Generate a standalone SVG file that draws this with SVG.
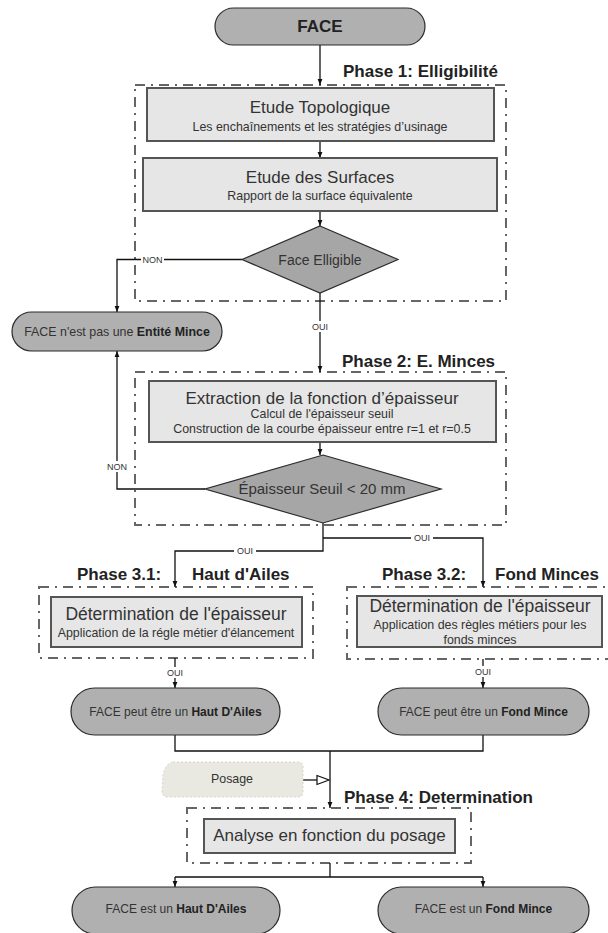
<svg xmlns="http://www.w3.org/2000/svg" width="608" height="933" viewBox="0 0 608 933">
<defs>
<marker id="arr" viewBox="0 0 10 10" refX="10" refY="5" markerWidth="6" markerHeight="6" orient="auto" markerUnits="userSpaceOnUse"><path d="M0,1 L10,5 L0,9 Z" fill="#111"/></marker>
<style>
.term{fill:#b0b0b0;stroke:#2b2b2b;stroke-width:1.2}
.proc{fill:#e6e6e6;stroke:#555;stroke-width:2}
.dec{fill:#a6a6a6;stroke:#2b2b2b;stroke-width:1.2}
.phase{fill:none;stroke:#666;stroke-width:2;stroke-dasharray:10 6 2 6}
.conn{fill:none;stroke:#111;stroke-width:1.3}
.bg{fill:#fff}
text{font-family:"Liberation Sans",Arial,sans-serif;fill:#333;text-anchor:middle}
.t17{font-size:17px}
.t12{font-size:12.4px}
.n12{font-size:12px}
.lbl{font-size:9px}
.ph{font-size:17px;font-weight:bold;fill:#222;text-anchor:start}
.b{font-weight:bold;fill:#222}
</style>
</defs>

<g id="phases">
<g id="phase1"><rect class="phase" x="135" y="85" width="371" height="216"/><text class="ph" x="343" y="77">Phase 1: Elligibilité</text></g>
<g id="phase2"><rect class="phase" x="135" y="372" width="371" height="153"/><text class="ph" x="342" y="367">Phase 2: E. Minces</text></g>
<g id="phase31"><rect class="phase" x="39" y="587" width="274" height="71"/><text class="ph" x="77" y="580">Phase 3.1:</text><text class="ph" x="192" y="580">Haut d'Ailes</text></g>
<g id="phase32"><rect class="phase" x="347" y="587" width="266" height="72"/><text class="ph" x="382" y="580">Phase 3.2:</text><text class="ph" x="495" y="580">Fond Minces</text></g>
<g id="phase4"><rect class="phase" x="187" y="808" width="284" height="55"/><text class="ph" x="344" y="803">Phase 4: Determination</text></g>
</g>

<g id="connectors">
<path class="conn" d="M320,45 V85" marker-end="url(#arr)"/>
<path class="conn" d="M320,141 V158" marker-end="url(#arr)"/>
<path class="conn" d="M320,211 V226" marker-end="url(#arr)"/>
<path class="conn" d="M320,293 V372" marker-end="url(#arr)"/>
<path class="conn" d="M242,259.5 H117 V312" marker-end="url(#arr)"/>
<path class="conn" d="M320,442 V455" marker-end="url(#arr)"/>
<path class="conn" d="M205,489 H117 V351" marker-end="url(#arr)"/>
<path class="conn" d="M323,523 V551 H175 V587" marker-end="url(#arr)"/>
<path class="conn" d="M323,538 H483 V587" marker-end="url(#arr)"/>
<path class="conn" d="M175,658 V688" marker-end="url(#arr)"/>
<path class="conn" d="M483,659 V688" marker-end="url(#arr)"/>
<path class="conn" d="M175,735 V751 H483 V735"/>
<path class="conn" d="M330,751 V808" marker-end="url(#arr)"/>
<path class="conn" d="M303,780 H317"/>
<path d="M317,775.5 L329,780 L317,784.5 Z" fill="#fff" stroke="#111" stroke-width="1.2"/>
<path class="conn" d="M330,863 V877 M175,877 H483"/>
<path class="conn" d="M175,877 V887" marker-end="url(#arr)"/>
<path class="conn" d="M483,877 V887" marker-end="url(#arr)"/>
<rect class="bg" x="141" y="254" width="23" height="11"/><text class="lbl" x="152.5" y="262.5">NON</text>
<rect class="bg" x="308" y="321" width="24" height="11"/><text class="lbl" x="320" y="330">OUI</text>
<rect class="bg" x="106" y="461" width="22" height="11"/><text class="lbl" x="117" y="470">NON</text>
<rect class="bg" x="234" y="545" width="22" height="11"/><text class="lbl" x="245" y="554">OUI</text>
<rect class="bg" x="411" y="532" width="22" height="11"/><text class="lbl" x="422" y="541">OUI</text>
<rect class="bg" x="164" y="667" width="22" height="11"/><text class="lbl" x="175" y="676">OUI</text>
<rect class="bg" x="472" y="666" width="22" height="11"/><text class="lbl" x="483" y="675">OUI</text>
</g>

<g id="face"><rect class="term" x="215" y="8" width="210" height="37" rx="18.5"/><text x="320" y="32" style="font-size:17px;font-weight:bold;fill:#222">FACE</text></g>
<g id="etude-topo"><rect class="proc" x="147" y="88" width="347" height="53"/><text class="t17" x="320" y="113">Etude Topologique</text><text class="t12" x="320" y="131">Les enchaînements et les stratégies d’usinage</text></g>
<g id="etude-surf"><rect class="proc" x="143" y="158" width="354" height="53"/><text class="t17" x="320" y="183">Etude des Surfaces</text><text class="t12" x="320" y="200">Rapport de la surface équivalente</text></g>
<g id="face-elligible"><polygon class="dec" points="320,226 398,259.5 320,293 242,259.5"/><text x="320" y="264.5" style="font-size:14px">Face Elligible</text></g>
<g id="pas-mince"><rect class="term" x="12" y="312" width="210" height="39" rx="19.5"/><text x="117" y="336" style="font-size:12.4px">FACE n'est pas une <tspan class="b">Entité Mince</tspan></text></g>
<g id="extraction"><rect class="proc" x="149" y="381" width="347" height="61"/><text class="t17" x="322" y="404">Extraction de la fonction d’épaisseur</text><text class="t12" x="322" y="418">Calcul de l'épaisseur seuil</text><text class="t12" x="322" y="433">Construction de la courbe épaisseur entre r=1 et r=0.5</text></g>
<g id="seuil"><polygon class="dec" points="323,455 441,489 323,523 205,489"/><text x="322" y="494" style="font-size:15px">Épaisseur Seuil &lt; 20 mm</text></g>
<g id="det-haut"><rect class="proc" x="51" y="597" width="251" height="50"/><text x="176" y="620" style="font-size:17.5px">Détermination de l'épaisseur</text><text class="t12" x="176" y="637">Application de la régle métier d'élancement</text></g>
<g id="det-fond"><rect class="proc" x="357" y="596" width="245" height="51"/><text x="480" y="612" style="font-size:17.5px">Détermination de l'épaisseur</text><text class="t12" x="480" y="629">Application des règles métiers pour les</text><text class="t12" x="480" y="644">fonds minces</text></g>
<g id="peut-haut"><rect class="term" x="71" y="688" width="209" height="47" rx="23.5"/><text class="n12" x="175.5" y="716">FACE peut être un <tspan class="b">Haut D'Ailes</tspan></text></g>
<g id="peut-fond"><rect class="term" x="378" y="688" width="211" height="47" rx="23.5"/><text class="n12" x="483.5" y="716">FACE peut être un <tspan class="b">Fond Mince</tspan></text></g>
<g id="posage"><path d="M173,762 L298,762 Q303,762 303,767 L303,792 Q303,797 298,797 L168,797 Q162,797 162,791 L163,775 Q165,764 173,762 Z" fill="#e9e9e1" stroke="#d6d6cc" stroke-width="1" stroke-dasharray="2 2"/><text x="232" y="783" style="font-size:12.4px">Posage</text></g>
<g id="analyse"><rect class="proc" x="204" y="819" width="251" height="34"/><text class="t17" x="329.5" y="841">Analyse en fonction du posage</text></g>
<g id="est-haut"><rect class="term" x="72" y="887" width="208" height="47" rx="23.5"/><text class="n12" x="176" y="913">FACE est un <tspan class="b">Haut D'Ailes</tspan></text></g>
<g id="est-fond"><rect class="term" x="378" y="887" width="211" height="47" rx="23.5"/><text class="n12" x="483.5" y="913">FACE est un <tspan class="b">Fond Mince</tspan></text></g>
</svg>
